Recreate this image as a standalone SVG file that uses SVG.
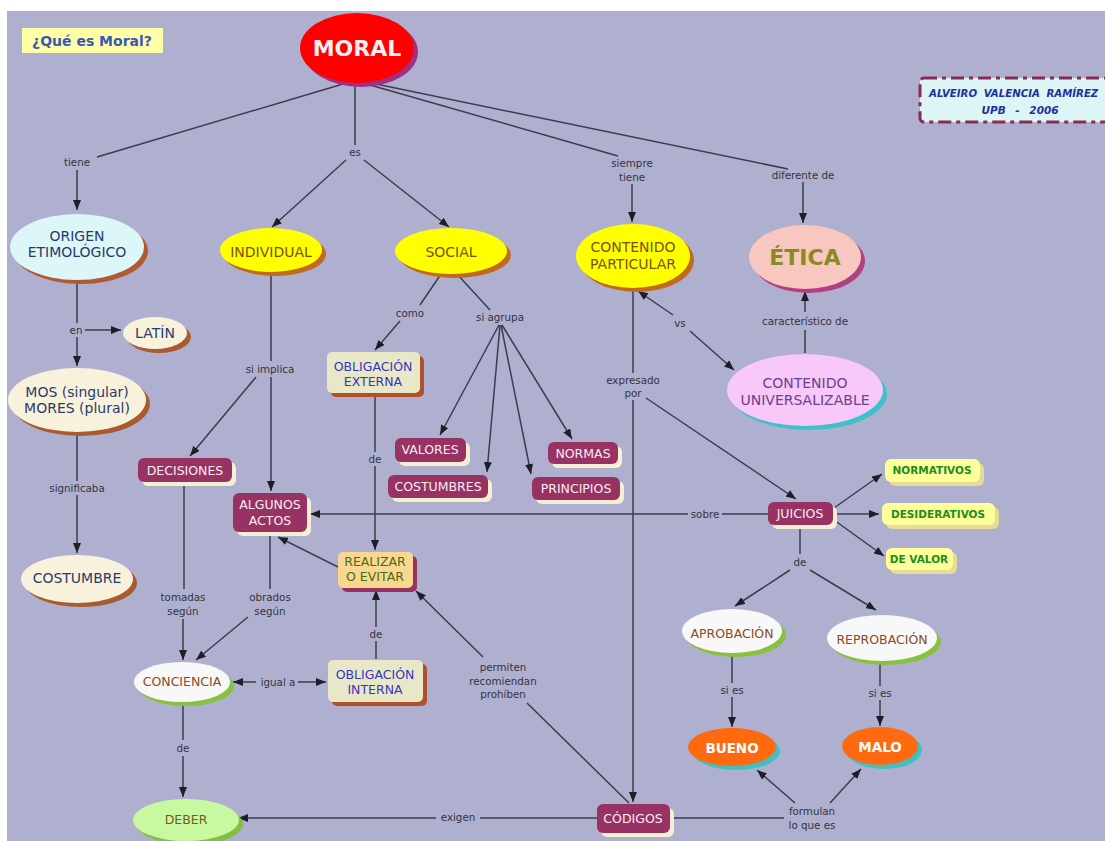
<svg xmlns="http://www.w3.org/2000/svg" width="1105" height="841" viewBox="0 0 1105 841">
<style>
.bg{fill:#AFB0CF}
.e{stroke:#3C3C4C;stroke-width:1.5;fill:none}
.a{stroke:#3C3C4C;stroke-width:1.5;fill:none;marker-end:url(#arr)}
.lb{font-family:"DejaVu Sans",Verdana,sans-serif;font-size:10.3px;fill:#333340;text-anchor:middle}
.t14{font-family:"DejaVu Sans",Verdana,sans-serif;font-size:14px;text-anchor:middle}
.t12{font-family:"DejaVu Sans",Verdana,sans-serif;font-size:12.5px;text-anchor:middle}
.pb{fill:#983262}
.pbs{fill:#F6EFD2}
.pt{fill:#F8ECF2}
.yb{fill:#FFFF99}
.ybs{fill:#E6DC96}
.yt{font-family:"DejaVu Sans",Verdana,sans-serif;font-size:10.5px;font-weight:bold;fill:#1E8C1E;text-anchor:middle}
</style>
<defs>
<marker id="arr" viewBox="0 0 10 8" refX="10" refY="4" markerWidth="10" markerHeight="8" markerUnits="userSpaceOnUse" orient="auto"><path d="M0,0 L10,4 L0,8 z" fill="#1E1E28"/></marker>
</defs>
<rect x="0" y="0" width="1105" height="841" fill="#FFFFFF"/>
<rect class="bg" x="7" y="11" width="1098" height="830"/>

<g id="connectors">
<line class="e" x1="343" y1="84" x2="97" y2="157"/>
<line class="a" x1="77" y1="170" x2="77" y2="210"/>
<line class="e" x1="355" y1="85" x2="355" y2="145"/>
<line class="a" x1="346" y1="160" x2="272" y2="227"/>
<line class="a" x1="364" y1="160" x2="449" y2="227"/>
<line class="e" x1="370" y1="85" x2="618" y2="156"/>
<line class="a" x1="632" y1="184" x2="632" y2="222"/>
<line class="e" x1="376" y1="84" x2="788" y2="169"/>
<line class="a" x1="803" y1="182" x2="803" y2="223"/>
<line class="e" x1="77" y1="282" x2="77" y2="323"/>
<line class="a" x1="85" y1="330" x2="121" y2="330"/>
<line class="a" x1="77" y1="337" x2="77" y2="366"/>
<line class="e" x1="77" y1="433" x2="77" y2="481"/>
<line class="a" x1="77" y1="495" x2="77" y2="553"/>
<line class="e" x1="271" y1="273" x2="271" y2="361"/>
<line class="a" x1="271" y1="377" x2="271" y2="491"/>
<line class="a" x1="256" y1="377" x2="190" y2="456"/>
<line class="e" x1="441" y1="274" x2="420" y2="305"/>
<line class="a" x1="400" y1="321" x2="375" y2="350"/>
<line class="e" x1="457" y1="274" x2="490" y2="310"/>
<line class="a" x1="499" y1="325" x2="440" y2="435"/>
<line class="a" x1="500" y1="325" x2="487" y2="472"/>
<line class="a" x1="501" y1="325" x2="531" y2="474"/>
<line class="a" x1="502" y1="325" x2="572" y2="439"/>
<line class="e" x1="375" y1="394" x2="375" y2="452"/>
<line class="a" x1="375" y1="466" x2="375" y2="550"/>
<line class="e" x1="633" y1="289" x2="633" y2="373"/>
<line class="a" x1="633" y1="400" x2="633" y2="802"/>
<line class="a" x1="646" y1="398" x2="796" y2="499"/>
<line class="a" x1="673" y1="315" x2="638" y2="291"/>
<line class="a" x1="690" y1="331" x2="734" y2="370"/>
<line class="e" x1="805" y1="353" x2="805" y2="330"/>
<line class="a" x1="805" y1="312" x2="805" y2="291"/>
<line class="e" x1="768" y1="514" x2="722" y2="514"/>
<line class="a" x1="688" y1="514" x2="310" y2="514"/>
<line class="a" x1="834" y1="508" x2="882" y2="474"/>
<line class="a" x1="834" y1="514" x2="879" y2="514"/>
<line class="a" x1="834" y1="520" x2="884" y2="556"/>
<line class="e" x1="800" y1="526" x2="800" y2="554"/>
<line class="a" x1="790" y1="570" x2="735" y2="606"/>
<line class="a" x1="810" y1="570" x2="876" y2="610"/>
<line class="e" x1="732" y1="653" x2="732" y2="683"/>
<line class="a" x1="732" y1="697" x2="732" y2="727"/>
<line class="e" x1="880" y1="661" x2="880" y2="686"/>
<line class="a" x1="880" y1="700" x2="880" y2="726"/>
<line class="e" x1="597" y1="818" x2="480" y2="818"/>
<line class="a" x1="436" y1="818" x2="238" y2="818"/>
<line class="e" x1="670" y1="818" x2="784" y2="818"/>
<line class="a" x1="795" y1="803" x2="757" y2="770"/>
<line class="a" x1="830" y1="803" x2="861" y2="769"/>
<line class="e" x1="629" y1="803" x2="527" y2="703"/>
<line class="a" x1="483" y1="657" x2="416" y2="591"/>
<line class="e" x1="376" y1="659" x2="376" y2="641"/>
<line class="a" x1="376" y1="627" x2="376" y2="590"/>
<line class="a" x1="256" y1="682" x2="233" y2="682"/>
<line class="a" x1="298" y1="682" x2="326" y2="682"/>
<line class="e" x1="183" y1="703" x2="183" y2="740"/>
<line class="a" x1="183" y1="756" x2="183" y2="797"/>
<line class="e" x1="184" y1="483" x2="184" y2="589"/>
<line class="a" x1="183" y1="619" x2="183" y2="660"/>
<line class="e" x1="270" y1="533" x2="270" y2="589"/>
<line class="a" x1="248" y1="617" x2="196" y2="660"/>
<line class="a" x1="338" y1="567" x2="278" y2="537"/>
</g>

<g id="labels">
<text class="lb" x="77" y="166">tiene</text>
<text class="lb" x="355" y="156">es</text>
<text class="lb" x="632" y="167">siempre</text>
<text class="lb" x="632" y="181">tiene</text>
<text class="lb" x="803" y="179">diferente de</text>
<text class="lb" x="76" y="334">en</text>
<text class="lb" x="77" y="492">significaba</text>
<text class="lb" x="270" y="373">si implica</text>
<text class="lb" x="410" y="317">como</text>
<text class="lb" x="500" y="321">si agrupa</text>
<text class="lb" x="375" y="463">de</text>
<text class="lb" x="633" y="384">expresado</text>
<text class="lb" x="633" y="397">por</text>
<text class="lb" x="680" y="327">vs</text>
<text class="lb" x="805" y="325">característico de</text>
<text class="lb" x="705" y="518">sobre</text>
<text class="lb" x="800" y="566">de</text>
<text class="lb" x="732" y="694">si es</text>
<text class="lb" x="880" y="697">si es</text>
<text class="lb" x="458" y="821">exigen</text>
<text class="lb" x="812" y="815">formulan</text>
<text class="lb" x="812" y="829">lo que es</text>
<text class="lb" x="503" y="671">permiten</text>
<text class="lb" x="503" y="685">recomiendan</text>
<text class="lb" x="503" y="698">prohíben</text>
<text class="lb" x="376" y="638">de</text>
<text class="lb" x="278" y="686">igual a</text>
<text class="lb" x="183" y="752">de</text>
<text class="lb" x="183" y="601">tomadas</text>
<text class="lb" x="183" y="615">según</text>
<text class="lb" x="270" y="601">obrados</text>
<text class="lb" x="270" y="615">según</text>
</g>

<g id="title">
<rect x="22" y="28" width="141" height="25" fill="#FFFFA8"/>
<text x="92" y="46" font-family="DejaVu Sans,Verdana,sans-serif" font-size="14" font-weight="bold" fill="#3858B8" text-anchor="middle">¿Qué es Moral?</text>
</g>

<g id="author">
<rect x="920" y="78" width="200" height="44" rx="4" fill="#DDF5F5" stroke="#8A2A58" stroke-width="3" stroke-dasharray="13 5 4 5"/>
<text x="929" y="97" font-family="DejaVu Sans,Verdana,sans-serif" font-size="10.2" font-weight="bold" font-style="italic" fill="#2030A0" word-spacing="3">ALVEIRO VALENCIA RAMÍREZ</text>
<text x="1020" y="114" font-family="DejaVu Sans,Verdana,sans-serif" font-size="10.5" font-weight="bold" font-style="italic" fill="#2030A0" text-anchor="middle" word-spacing="6">UPB - 2006</text>
</g>

<g id="moral">
<ellipse cx="361" cy="52" rx="57" ry="35" fill="#A03080"/>
<ellipse cx="357" cy="48" rx="57" ry="35" fill="#FF0000"/>
<text x="357" y="56" font-family="DejaVu Sans,Verdana,sans-serif" font-size="22" font-weight="bold" fill="#F8F0F0" text-anchor="middle">MORAL</text>
</g>

<g id="origen">
<ellipse cx="81" cy="251" rx="67" ry="33" fill="#B05A30"/>
<ellipse cx="77" cy="247" rx="67" ry="33" fill="#DDF6F8"/>
<text class="t14" x="77" y="241" fill="#2A3A6A">ORIGEN</text>
<text class="t14" x="77" y="257" fill="#2A3A6A">ETIMOLÓGICO</text>
</g>

<g id="latin">
<ellipse cx="159" cy="337" rx="32" ry="16" fill="#A85A30"/>
<ellipse cx="155" cy="333" rx="32" ry="16" fill="#F8F2DC"/>
<text class="t14" x="155" y="338" fill="#2A3A6A">LATÍN</text>
</g>

<g id="mos">
<ellipse cx="81" cy="404" rx="69" ry="32" fill="#A85A30"/>
<ellipse cx="77" cy="400" rx="69" ry="32" fill="#F8F2DC"/>
<text class="t14" x="77" y="397" fill="#2A3A6A">MOS (singular)</text>
<text class="t14" x="77" y="413" fill="#2A3A6A">MORES (plural)</text>
</g>

<g id="costumbre">
<ellipse cx="81" cy="583" rx="56" ry="24" fill="#A85A30"/>
<ellipse cx="77" cy="579" rx="56" ry="24" fill="#F8F2DC"/>
<text class="t14" x="77" y="583" fill="#2A3A6A">COSTUMBRE</text>
</g>

<g id="individual">
<ellipse cx="275" cy="254" rx="51" ry="22" fill="#C06A20"/>
<ellipse cx="271" cy="250" rx="51" ry="22" fill="#FFFF00"/>
<text class="t14" x="271" y="257" fill="#7A5010">INDIVIDUAL</text>
</g>

<g id="social">
<ellipse cx="455" cy="255" rx="56" ry="23" fill="#C06A20"/>
<ellipse cx="451" cy="251" rx="56" ry="23" fill="#FFFF00"/>
<text class="t14" x="451" y="257" fill="#7A5010">SOCIAL</text>
</g>

<g id="contenido-particular">
<ellipse cx="637" cy="260" rx="57" ry="32" fill="#C06A20"/>
<ellipse cx="633" cy="256" rx="57" ry="32" fill="#FFFF00"/>
<text class="t14" x="633" y="252" fill="#7A5010">CONTENIDO</text>
<text class="t14" x="633" y="269" fill="#7A5010">PARTICULAR</text>
</g>

<g id="etica">
<ellipse cx="809" cy="261" rx="56" ry="32" fill="#B04080"/>
<ellipse cx="805" cy="257" rx="56" ry="32" fill="#F8C8C0"/>
<text x="805" y="265" font-family="DejaVu Sans,Verdana,sans-serif" font-size="22" font-weight="bold" fill="#8A8A20" text-anchor="middle">ÉTICA</text>
</g>

<g id="contenido-universalizable">
<ellipse cx="809" cy="394" rx="78" ry="36" fill="#40C0C8"/>
<ellipse cx="805" cy="390" rx="78" ry="36" fill="#F8C8F8"/>
<text class="t14" x="805" y="388" fill="#6A4090">CONTENIDO</text>
<text class="t14" x="805" y="405" fill="#6A4090">UNIVERSALIZABLE</text>
</g>

<g id="obligacion-externa">
<rect x="331" y="356" width="93" height="41" rx="5" fill="#B05028"/>
<rect x="327" y="352" width="93" height="41" rx="5" fill="#E8E8C8"/>
<text class="t12" x="373" y="371" fill="#3535C0">OBLIGACIÓN</text>
<text class="t12" x="373" y="386" fill="#3535C0">EXTERNA</text>
</g>

<g id="valores">
<rect class="pbs" x="399" y="442" width="71" height="24" rx="6"/>
<rect class="pb" x="395" y="438" width="71" height="24" rx="6"/>
<text class="t12 pt" x="430" y="454">VALORES</text>
</g>

<g id="costumbres">
<rect class="pbs" x="392" y="479" width="100" height="23" rx="6"/>
<rect class="pb" x="388" y="475" width="100" height="23" rx="6"/>
<text class="t12 pt" x="438" y="491">COSTUMBRES</text>
</g>

<g id="normas">
<rect class="pbs" x="552" y="446" width="70" height="22" rx="6"/>
<rect class="pb" x="548" y="442" width="70" height="22" rx="6"/>
<text class="t12 pt" x="583" y="458">NORMAS</text>
</g>

<g id="principios">
<rect class="pbs" x="536" y="481" width="88" height="23" rx="6"/>
<rect class="pb" x="532" y="477" width="88" height="23" rx="6"/>
<text class="t12 pt" x="576" y="493">PRINCIPIOS</text>
</g>

<g id="decisiones">
<rect class="pbs" x="142" y="462" width="94" height="24" rx="6"/>
<rect class="pb" x="138" y="458" width="94" height="24" rx="6"/>
<text class="t12 pt" x="185" y="475">DECISIONES</text>
</g>

<g id="algunos-actos">
<rect class="pbs" x="237" y="497" width="74" height="39" rx="6"/>
<rect class="pb" x="233" y="493" width="74" height="39" rx="6"/>
<text class="t12 pt" x="270" y="509">ALGUNOS</text>
<text class="t12 pt" x="270" y="525">ACTOS</text>
</g>

<g id="realizar">
<rect x="342" y="556" width="75" height="36" rx="5" fill="#983262"/>
<rect x="338" y="552" width="75" height="36" rx="5" fill="#F8D890"/>
<text class="t12" x="375" y="566" fill="#4A6A10">REALIZAR</text>
<text class="t12" x="375" y="581" fill="#4A6A10">O EVITAR</text>
</g>

<g id="juicios">
<rect class="pbs" x="772" y="506" width="65" height="23" rx="6"/>
<rect class="pb" x="768" y="502" width="65" height="23" rx="6"/>
<text class="t12 pt" x="800" y="518">JUICIOS</text>
</g>

<g id="normativos">
<rect class="ybs" x="889" y="463" width="95" height="23" rx="6"/>
<rect class="yb" x="885" y="459" width="95" height="23" rx="6"/>
<text class="yt" x="932" y="474">NORMATIVOS</text>
</g>

<g id="desiderativos">
<rect class="ybs" x="886" y="507" width="113" height="22" rx="6"/>
<rect class="yb" x="882" y="503" width="113" height="22" rx="6"/>
<text class="yt" x="938" y="518">DESIDERATIVOS</text>
</g>

<g id="de-valor">
<rect class="ybs" x="890" y="552" width="67" height="22" rx="6"/>
<rect class="yb" x="886" y="548" width="67" height="22" rx="6"/>
<text class="yt" x="919" y="563">DE VALOR</text>
</g>

<g id="aprobacion">
<ellipse cx="736" cy="635" rx="50" ry="22" fill="#88C040"/>
<ellipse cx="732" cy="631" rx="50" ry="22" fill="#F8F8F8"/>
<text class="t12" x="732" y="638" fill="#8B4A20">APROBACIÓN</text>
</g>

<g id="reprobacion">
<ellipse cx="886" cy="642" rx="55" ry="23" fill="#88C040"/>
<ellipse cx="882" cy="638" rx="55" ry="23" fill="#F8F8F8"/>
<text class="t12" x="882" y="644" fill="#8B4A20">REPROBACIÓN</text>
</g>

<g id="bueno">
<ellipse cx="736" cy="751" rx="44" ry="19" fill="#40C0C0"/>
<ellipse cx="732" cy="747" rx="44" ry="19" fill="#FF6A10"/>
<text x="732" y="753" font-family="DejaVu Sans,Verdana,sans-serif" font-size="13.5" font-weight="bold" fill="#FFFFFF" text-anchor="middle">BUENO</text>
</g>

<g id="malo">
<ellipse cx="884" cy="750" rx="38" ry="19" fill="#40C0C0"/>
<ellipse cx="880" cy="746" rx="38" ry="19" fill="#FF6A10"/>
<text x="880" y="752" font-family="DejaVu Sans,Verdana,sans-serif" font-size="13.5" font-weight="bold" fill="#FFFFFF" text-anchor="middle">MALO</text>
</g>

<g id="codigos">
<rect class="pbs" x="601" y="808" width="73" height="29" rx="6"/>
<rect class="pb" x="597" y="804" width="73" height="29" rx="6"/>
<text class="t12 pt" x="633" y="823">CÓDIGOS</text>
</g>

<g id="conciencia">
<ellipse cx="186" cy="686" rx="48" ry="20" fill="#88C040"/>
<ellipse cx="182" cy="682" rx="48" ry="20" fill="#F8F8F8"/>
<text class="t12" x="182" y="686" fill="#8B4A20">CONCIENCIA</text>
</g>

<g id="obligacion-interna">
<rect x="332" y="664" width="95" height="42" rx="5" fill="#B05028"/>
<rect x="328" y="660" width="95" height="42" rx="5" fill="#E8E8C8"/>
<text class="t12" x="375" y="679" fill="#3535C0">OBLIGACIÓN</text>
<text class="t12" x="375" y="694" fill="#3535C0">INTERNA</text>
</g>

<g id="deber">
<ellipse cx="190" cy="824" rx="53" ry="21" fill="#80C040"/>
<ellipse cx="186" cy="820" rx="53" ry="21" fill="#C8F8A0"/>
<text class="t12" x="186" y="824" fill="#706020">DEBER</text>
</g>
</svg>
